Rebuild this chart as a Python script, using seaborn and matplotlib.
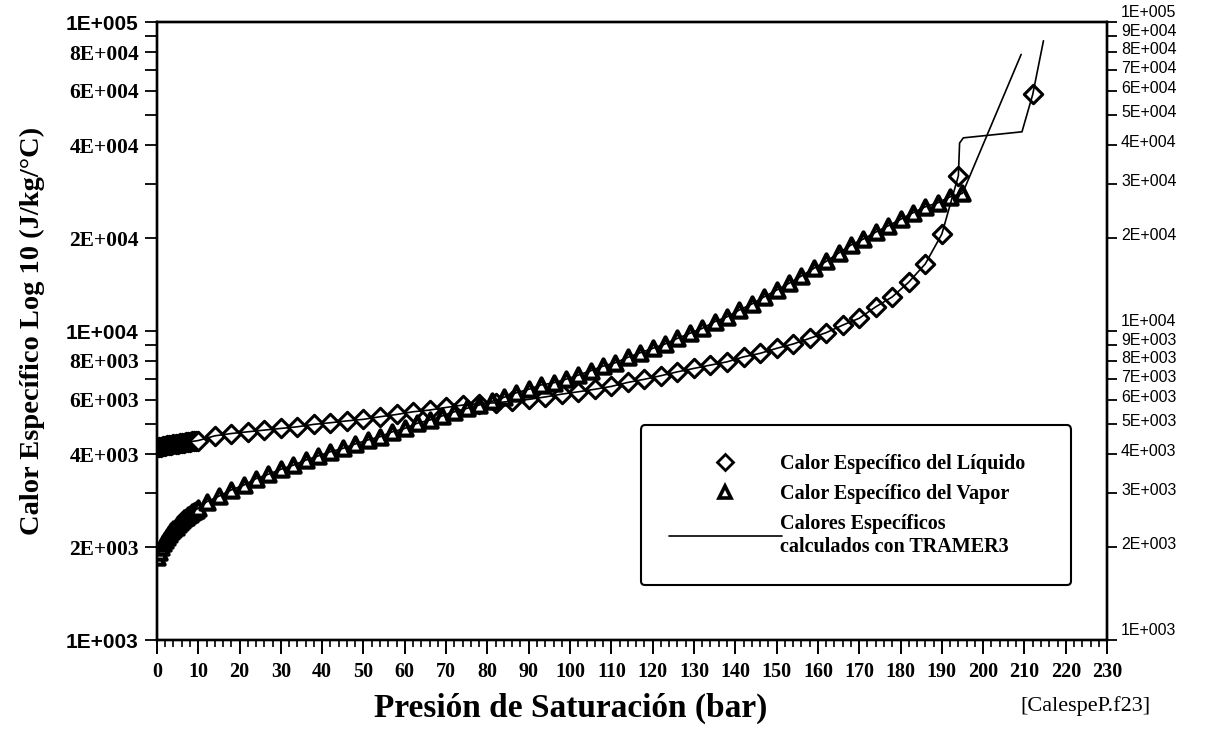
import numpy as np
import pandas as pd
import matplotlib
matplotlib.use("Agg")
import matplotlib.pyplot as plt
import matplotlib.transforms as mtransforms
import seaborn as sns
from matplotlib.lines import Line2D
from matplotlib.ticker import FixedLocator, NullFormatter
from matplotlib.font_manager import FontProperties

# ---------------- data ----------------
# Liquid specific heat (diamonds)
liq_p = [0.05, 0.5, 1, 1.5, 2, 2.5, 3, 3.5, 4, 4.5, 5, 5.5, 6, 6.5, 7, 7.5, 8, 8.5, 9, 9.5, 10,
         14, 18, 22, 26, 30, 34, 38, 42, 46, 50, 54, 58, 62, 66, 70, 74, 78, 82, 86, 90,
         94, 98, 102, 106, 110, 114, 118, 122, 126, 130, 134, 138, 142, 146, 150, 154,
         158, 162, 166, 170, 174, 178, 182, 186, 190, 194, 212]
liq_cp = [4205, 4215, 4222, 4240, 4255, 4268, 4280, 4292, 4302, 4312, 4322, 4332, 4342, 4352,
          4362, 4372, 4382, 4392, 4402, 4412, 4422,
          4580, 4660, 4720, 4780, 4840, 4900, 4990, 5050, 5120, 5180, 5280, 5370, 5480, 5550,
          5660, 5760, 5820, 5860, 5930, 6010, 6120, 6250, 6360, 6480, 6620, 6820, 6980, 7170,
          7380, 7570, 7760, 7950, 8250, 8470, 8790, 9080, 9470, 9880, 10450, 11000, 11980,
          12900, 14400, 16500, 20600, 31800, 58300]

# Vapour specific heat (triangles)
vap_p = [0.05, 0.5, 1, 1.5, 2, 2.5, 3, 3.5, 4, 4.5, 5, 5.5, 6, 6.5, 7, 7.5, 8, 8.5, 9, 9.5, 10,
         12, 15, 18, 21, 24, 27, 30, 33, 36, 39, 42, 45, 48, 51, 54, 57, 60, 63, 66, 69,
         72, 75, 78, 81, 84, 87, 90, 93, 96, 99, 102, 105, 108, 111, 114, 117, 120, 123,
         126, 129, 132, 135, 138, 141, 144, 147, 150, 153, 156, 159, 162, 165, 168, 171,
         174, 177, 180, 183, 186, 189, 192, 195]
vap_cp = [1860, 1930, 1995, 2055, 2110, 2160, 2210, 2250, 2290, 2330, 2370, 2405, 2440, 2475,
          2505, 2535, 2565, 2595, 2620, 2645, 2670,
          2800, 2920, 3060, 3170, 3330, 3440, 3570, 3680, 3820, 3940, 4070, 4170, 4310, 4440,
          4550, 4720, 4840, 5030, 5150, 5310, 5480, 5620, 5760, 5920, 6100, 6315, 6480, 6690,
          6800, 6980, 7200, 7440, 7700, 7900, 8220, 8510, 8790, 9080, 9470, 9830, 10200,
          10720, 11120, 11700, 12230, 12910, 13570, 14270, 15070, 15950, 16800, 17880, 18980,
          19850, 20900, 21900, 22990, 24140, 25250, 26010, 27200, 27900]

# TRAMER3 calculated curves: end parts beyond the last measured points
tramer_liq_end_p = [194.3, 195.2, 209.4, 212, 214.6]
tramer_liq_end_cp = [40600, 42200, 44150, 58300, 87000]
tramer_vap_end_p = [209.2]
tramer_vap_end_cp = [78600]

# axes / tick labels
x_ticks = [0, 10, 20, 30, 40, 50, 60, 70, 80, 90, 100, 110, 120, 130, 140, 150, 160, 170,
           180, 190, 200, 210, 220, 230]
left_ticks = [1e3, 2e3, 4e3, 6e3, 8e3, 1e4, 2e4, 4e4, 6e4, 8e4, 1e5]
left_labels = ["1E+003", "2E+003", "4E+003", "6E+003", "8E+003", "1E+004", "2E+004",
               "4E+004", "6E+004", "8E+004", "1E+005"]
left_minor = [3e3, 5e3, 7e3, 9e3, 3e4, 5e4, 7e4, 9e4]
right_ticks = [1e3, 2e3, 3e3, 4e3, 5e3, 6e3, 7e3, 8e3, 9e3,
               1e4, 2e4, 3e4, 4e4, 5e4, 6e4, 7e4, 8e4, 9e4, 1e5]
right_labels = ["1E+003", "2E+003", "3E+003", "4E+003", "5E+003", "6E+003", "7E+003",
                "8E+003", "9E+003", "1E+004", "2E+004", "3E+004", "4E+004", "5E+004",
                "6E+004", "7E+004", "8E+004", "9E+004", "1E+005"]

legend_labels = ["Calor Específico del Líquido", "Calor Específico del Vapor",
                 "Calores Específicos\ncalculados con TRAMER3"]

# ---------------- figure ----------------
sns.set_theme(style="ticks")
plt.rcParams["font.family"] = ["Liberation Serif", "DejaVu Serif"]
for key in ["text.color", "axes.labelcolor", "xtick.color", "ytick.color", "axes.edgecolor"]:
    plt.rcParams[key] = "black"
plt.rcParams["axes.linewidth"] = 1.7

fig = plt.figure(figsize=(12.26, 7.49), dpi=100)
ax = fig.add_axes([0.128, 0.1455, 0.775, 0.825])

liq_df = pd.DataFrame({"p": liq_p, "cp": liq_cp})
vap_df = pd.DataFrame({"p": vap_p, "cp": vap_cp})
tl_df = pd.DataFrame({"p": liq_p[:-1] + tramer_liq_end_p, "cp": liq_cp[:-1] + tramer_liq_end_cp})
tv_df = pd.DataFrame({"p": vap_p + tramer_vap_end_p, "cp": vap_cp + tramer_vap_end_cp})

sns.scatterplot(data=liq_df, x="p", y="cp", ax=ax, marker="D", s=88, color="white",
                edgecolor="black", linewidth=2.2, zorder=3, legend=False)
sns.scatterplot(data=vap_df, x="p", y="cp", ax=ax, marker="^", s=105, color="white",
                edgecolor="black", linewidth=3.0, zorder=4, legend=False)
sns.lineplot(data=tl_df, x="p", y="cp", ax=ax, color="black", lw=1.2,
             estimator=None, sort=False, legend=False, zorder=5)
sns.lineplot(data=tv_df, x="p", y="cp", ax=ax, color="black", lw=1.2,
             estimator=None, sort=False, legend=False, zorder=5)

ax.set_yscale("log")
ax.set_ylim(1e3, 1e5)
ax.set_xlim(0, 230)

# x axis
ax.xaxis.set_major_locator(FixedLocator(x_ticks))
ax.set_xticklabels([str(v) for v in x_ticks])
ax.xaxis.set_minor_locator(FixedLocator([v for v in range(0, 231, 2) if v % 10 != 0]))
ax.tick_params(axis="x", which="major", direction="out", length=10, width=1.4,
               labelsize=14.5, pad=6, top=False)
ax.tick_params(axis="x", which="minor", direction="out", length=5, width=1.2, top=False)
for t in ax.get_xticklabels():
    t.set_fontweight("bold")

# left y axis
ax.yaxis.set_major_locator(FixedLocator(left_ticks))
ax.set_yticklabels(left_labels)
ax.yaxis.set_minor_locator(FixedLocator(left_minor))
ax.yaxis.set_minor_formatter(NullFormatter())
ax.tick_params(axis="y", which="both", direction="out", length=9, width=1.3,
               labelsize=15.5, pad=4, right=False)
for t in ax.get_yticklabels():
    t.set_fontweight("bold")
    if t.get_text().startswith("1E"):
        t.set_fontfamily("Liberation Sans")
        t.set_fontsize(15)

# right y axis
ax2 = ax.twinx()
ax2.set_yscale("log")
ax2.set_ylim(1e3, 1e5)
ax2.yaxis.set_major_locator(FixedLocator(right_ticks))
ax2.set_yticklabels(right_labels)
ax2.yaxis.set_minor_locator(FixedLocator([]))
ax2.tick_params(axis="y", which="major", direction="out", length=7, width=1.3,
                labelsize=11.5, pad=3)
shift_up = {"1": 11.0, "9": 6.6, "8": 4.0, "7": 3.4}
for t in ax2.get_yticklabels():
    t.set_fontfamily("Liberation Sans")
    up = shift_up.get(t.get_text()[0], 4.0)
    t.set_transform(t.get_transform() +
                    mtransforms.ScaledTranslation(0, up / 100.0, fig.dpi_scale_trans))
for s in ax2.spines.values():
    s.set_linewidth(1.7)

# axis labels
ax.set_xlabel("Presión de Saturación (bar)", fontsize=24, fontweight="bold")
ax.xaxis.set_label_coords(0.435, -0.085)
ax.set_ylabel("Calor Específico Log 10 (J/kg/°C)", fontsize=20.5, fontweight="bold")
ax.yaxis.set_label_coords(-0.118, 0.5)

# legend
handles = [
    Line2D([], [], marker="D", ls="none", mfc="white", mec="black", mew=2.0, ms=8),
    Line2D([], [], marker="^", ls="none", mfc="white", mec="black", mew=2.6, ms=8.5),
    Line2D([], [], color="black", lw=1.2),
]
leg = ax.legend(handles, legend_labels, loc="lower left",
                bbox_to_anchor=(0.509, 0.089, 0.453, 0.262), mode="expand",
                borderaxespad=0.0,
                frameon=True, fancybox=True, edgecolor="black", framealpha=1,
                handlelength=5.6, handletextpad=-0.1, borderpad=1.4, labelspacing=0.5,
                prop=FontProperties(family="Liberation Serif", weight="bold", size=14.5))
leg.get_frame().set_linewidth(1.5)
leg.set_zorder(10)

fig.text(0.885, 0.057, "[CalespeP.f23]", ha="center", va="center", fontsize=16,
         family="Liberation Serif")

fig.savefig("out.png", dpi=100, facecolor="white")
